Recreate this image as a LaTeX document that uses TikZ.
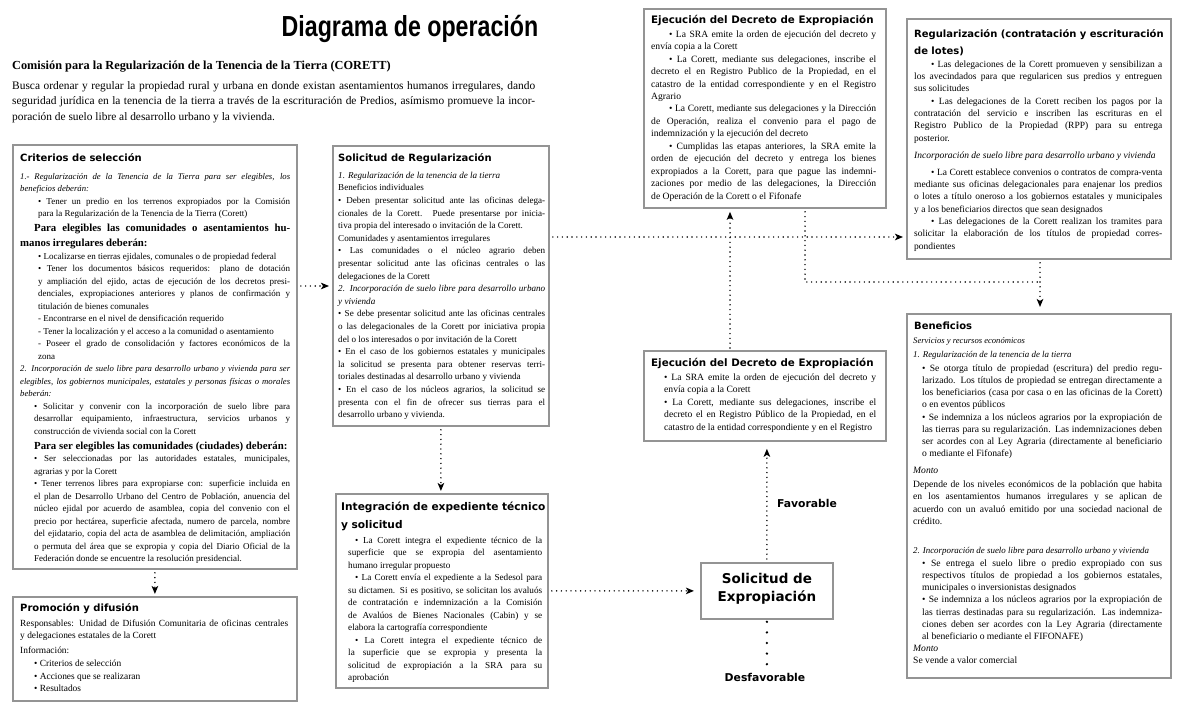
\documentclass[tikz,border=0pt]{standalone}
\usepackage{fontspec}
\usepackage{graphicx}
\setmainfont{Liberation Serif}
\newfontfamily\headfont{DejaVu Sans}
\newfontfamily\titlefont{Liberation Sans}
\usetikzlibrary{arrows.meta}
\newcommand{\myfs}[2]{\fontsize{#1}{#2}\selectfont}
\tolerance=10000
\hbadness=10000
\begin{document}
\begin{tikzpicture}[x=1pt,y=-1pt,
  box/.style={draw=black!42, line width=1.8pt, fill=white, inner sep=0pt, anchor=north west},
  txt/.style={inner sep=0pt, anchor=north west, align=justify},
  hd/.style={inner sep=0pt, anchor=base west, font=\headfont\bfseries\myfs{10}{12}},
  hd2/.style={inner sep=0pt, anchor=north west, align=left, font=\headfont\bfseries\myfs{10}{17}},
  dotln/.style={line width=1.6pt, dash pattern=on 0pt off 4.8pt, line cap=round},
  dotarr/.style={dotln, -{Stealth[length=8pt,width=6.5pt,inset=2pt]}},
  bigdots/.style={line width=2.6pt, dash pattern=on 0pt off 10.6pt, line cap=round},
  lbl/.style={inner sep=0pt, font=\headfont\bfseries\myfs{10.8}{13}}]
\useasboundingbox (0,0) rectangle (1184,706);
\fill[white] (0,0) rectangle (1184,706);

% ---------- boxes ----------
\node[box, minimum width=284pt, minimum height=424pt] (A) at (12,144) {};
\node[box, minimum width=284pt, minimum height=104pt] (B) at (12,596) {};
\node[box, minimum width=216pt, minimum height=280pt] (C) at (332,145) {};
\node[box, minimum width=212pt, minimum height=194pt] (D) at (335,493) {};
\node[box, minimum width=242pt, minimum height=199pt] (E) at (643,8) {};
\node[box, minimum width=242pt, minimum height=90pt] (F) at (643,350) {};
\node[box, minimum width=132pt, minimum height=56pt] (G) at (700,562) {};
\node[inner sep=0pt, align=center, font=\headfont\bfseries\myfs{13.5}{17.7}] (Gt) at ([yshift=2pt]G.center) {Solicitud de\\Expropiación};
\node[box, minimum width=264pt, minimum height=240pt] (H) at (906,18) {};
\node[box, minimum width=264pt, minimum height=364pt] (I) at (906,313) {};

% ---------- labels ----------
\node[lbl] (fav) at (807,503) {Favorable};
\node[lbl] (desf) at (765,677) {Desfavorable};

% ---------- connectors ----------
\coordinate (yAC) at (0,286);
\coordinate (yCH) at (0,237);
\coordinate (xFE) at (730,0);
\coordinate (xEI) at (805,0);
\coordinate (jn) at (1040,282);
\draw[dotarr, shorten <=3pt, shorten >=3pt] (A.east |- yAC) -- (C.west |- yAC);
\draw[dotarr, shorten <=3pt, shorten >=2pt] (A.south) -- (A.south |- B.north);
\draw[dotarr, shorten <=3pt, shorten >=2pt] (C.south) -- (C.south |- D.north);
\draw[dotarr, shorten <=3pt, shorten >=3pt] (C.east |- yCH) -- (H.west |- yCH);
\draw[dotarr, shorten <=2pt, shorten >=3pt] (F.north -| xFE) -- (E.south -| xFE);
\draw[dotln, shorten <=3pt] (E.south -| xEI) |- (jn);
\draw[dotarr, shorten <=3pt, shorten >=6pt] (H.south -| jn) -- (I.north -| jn);
\draw[dotarr, shorten <=3pt, shorten >=7pt] (G.north) -- (G.north |- F.south);
\draw[dotarr, shorten <=3pt, shorten >=6pt] (D.east |- G.west) -- (G.west);
\draw[bigdots, shorten <=2pt, shorten >=6pt] (G.south) -- (G.south |- desf.north);

% ---------- title and intro ----------
\node[anchor=base, inner sep=0pt] (title) at (410,37)
  {\titlefont\bfseries\myfs{29}{32}\scalebox{0.8}[1]{Diagrama de operación}};
\node[anchor=base west, inner sep=0pt, font=\bfseries\myfs{12.3}{14}] (corett) at (12,70)
  {Comisión para la Regularización de la Tenencia de la Tierra (CORETT)};
\node[txt, text width=523pt, font=\myfs{11.4}{15.5}] (intro) at (12,78.15)
  {\strut Busca ordenar y regular la propiedad rural y urbana en donde existan asentamientos humanos irregulares, dando\linebreak seguridad jurídica en la tenencia de la tierra a través de la escrituración de Predios, asímismo promueve la incor-\linebreak poración de suelo libre al desarrollo urbano y la vivienda.\par};

% ---------- A: Criterios ----------
\node[hd] (Ah) at (20,161) {Criterios de selección};
\node[txt, text width=270pt, font=\myfs{9}{12.5}] (At) at (20,170.25) {\strut{\itshape\myfs{8.7}{12.5}1.- Regularización de la Tenencia de la Tierra para ser elegibles, los\linebreak beneficios deberán:\par}
{\leftskip=18pt • Tener un predio en los terrenos expropiados por la Comisión\linebreak para la Regularización de la Tenencia de la Tierra (Corett)\par}
{\myfs{10.8}{15}\bfseries\hspace*{14pt}Para elegibles las comunidades o asentamientos hu-\linebreak manos irregulares deberán:\par}
{\leftskip=18pt • Localizarse en tierras ejidales, comunales o de propiedad federal\par
• Tener los documentos básicos requeridos: plano de dotación\linebreak y ampliación del ejido, actas de ejecución de los decretos presi-\linebreak denciales, expropiaciones anteriores y planos de confirmación y\linebreak titulación de bienes comunales\par
- Encontrarse en el nivel de densificación requerido\par
- Tener la localización y el acceso a la comunidad o asentamiento\par
- Poseer el grado de consolidación y factores económicos de la\linebreak zona\par}
{\itshape\myfs{8.7}{12.5}2. Incorporación de suelo libre para desarrollo urbano y vivienda para ser\linebreak elegibles, los gobiernos municipales, estatales y personas físicas o morales\linebreak beberán:\par}
{\leftskip=14pt • Solicitar y convenir con la incorporación de suelo libre para\linebreak desarrollar equipamiento, infraestructura, servicios urbanos y\linebreak construcción de vivienda social con la Corett\par
{\myfs{10.8}{15}\bfseries Para ser elegibles las comunidades (ciudades) deberán:\par}
• Ser seleccionadas por las autoridades estatales, municipales,\linebreak agrarias y por la Corett\par
• Tener terrenos libres para expropiarse con: superficie incluida en\linebreak el plan de Desarrollo Urbano del Centro de Población, anuencia del\linebreak núcleo ejidal por acuerdo de asamblea, copia del convenio con el\linebreak precio por hectárea, superficie afectada, numero de parcela, nombre\linebreak del ejidatario, copia del acta de asamblea de delimitación, ampliación\linebreak o permuta del área que se expropia y copia del Diario Oficial de la\linebreak Federación donde se encuentre la resolución presidencial.\par}};

% ---------- B: Promocion ----------
\node[hd] (Bh) at (20,611) {Promoción y difusión};
\node[txt, text width=268pt, font=\myfs{9.4}{12.6}] (Bt) at (20,617.2) {\strut Responsables: Unidad de Difusión Comunitaria de oficinas centrales\linebreak y delegaciones estatales de la Corett\par\vspace{2.5pt}
Información:\par
{\leftskip=14pt • Criterios de selección\par • Acciones que se realizaran\par • Resultados\par}};

% ---------- C: Solicitud de Regularizacion ----------
\node[hd] (Ch) at (338,162) {Solicitud de Regularización};
\node[txt, text width=207pt, font=\myfs{9.1}{12.6}] (Ct) at (338,169.2) {\strut{\itshape 1. Regularización de la tenencia de la tierra\par}
Beneficios individuales\par
• Deben presentar solicitud ante las oficinas delega-\linebreak cionales de la Corett. Puede presentarse por inicia-\linebreak tiva propia del interesado o invitación de la Corett.\par
Comunidades y asentamientos irregulares\par
• Las comunidades o el núcleo agrario deben\linebreak presentar solicitud ante las oficinas centrales o las\linebreak delegaciones de la Corett\par
{\itshape 2. Incorporación de suelo libre para desarrollo urbano\linebreak y vivienda\par}
• Se debe presentar solicitud ante las oficinas centrales\linebreak o las delegacionales de la Corett por iniciativa propia\linebreak del o los interesados o por invitación de la Corett\par
• En el caso de los gobiernos estatales y municipales\linebreak la solicitud se presenta para obtener reservas terri-\linebreak toriales destinadas al desarrollo urbano y vivienda\par
• En el caso de los núcleos agrarios, la solicitud se\linebreak presenta con el fin de ofrecer sus tierras para el\linebreak desarrollo urbano y vivienda.\par};

% ---------- D: Integracion ----------
\node[hd2, text width=205pt, font=\headfont\bfseries\myfs{10.6}{18}] (Dh) at (341,497.4) {\strut Integración de expediente técnico\\y solicitud};
\node[txt, text width=194pt, font=\myfs{9.2}{12.5}] (Dt) at (348,534.25) {\strut\hspace*{7pt}• La Corett integra el expediente técnico de la\linebreak superficie que se expropia del asentamiento\linebreak humano irregular propuesto\par
\hspace*{7pt}• La Corett envía el expediente a la Sedesol para\linebreak su dictamen. Si es positivo, se solicitan los avaluós\linebreak de contratación e indemnización a la Comisión\linebreak de Avalúos de Bienes Nacionales (Cabin) y se\linebreak elabora la cartografía correspondiente\par
\hspace*{7pt}• La Corett integra el expediente técnico de\linebreak la superficie que se expropia y presenta la\linebreak solicitud de expropiación a la SRA para su\linebreak aprobación\par};

% ---------- E: Ejecucion (arriba) ----------
\node[hd, font=\headfont\bfseries\myfs{10.3}{12}] (Eh) at (651,24) {Ejecución del Decreto de Expropiación};
\node[txt, text width=225pt, font=\myfs{9.6}{12.45}] (Et) at (651,28.3) {\strut\hspace*{18pt}• La SRA emite la orden de ejecución del decreto y\linebreak envía copia a la Corett\par
\hspace*{18pt}• La Corett, mediante sus delegaciones, inscribe el\linebreak decreto el en Registro Publico de la Propiedad, en el\linebreak catastro de la entidad correspondiente y en el Registro\linebreak Agrario\par
\hspace*{18pt}• La Corett, mediante sus delegaciones y la Dirección\linebreak de Operación, realiza el convenio para el pago de\linebreak indemnización y la ejecución del decreto\par
\hspace*{18pt}• Cumplidas las etapas anteriores, la SRA emite la\linebreak orden de ejecución del decreto y entrega los bienes\linebreak expropiados a la Corett, para que pague las indemni-\linebreak zaciones por medio de las delegaciones, la Dirección\linebreak de Operación de la Corett o el Fifonafe\par};

% ---------- F: Ejecucion (abajo) ----------
\node[hd, font=\headfont\bfseries\myfs{10.3}{12}] (Fh) at (651,366) {Ejecución del Decreto de Expropiación};
\node[txt, text width=212pt, font=\myfs{9.6}{12.5}] (Ft) at (664,371.25) {\strut • La SRA emite la orden de ejecución del decreto y\linebreak envía copia a la Corett\par
• La Corett, mediante sus delegaciones, inscribe el\linebreak decreto el en Registro Público de la Propiedad, en el\linebreak catastro de la entidad correspondiente y en el Registro\par};

% ---------- H: Regularizacion ----------
\node[hd2, text width=262pt] (Hh) at (914,25.1) {\strut Regularización (contratación y escrituración\\de lotes)};
\node[txt, text width=248pt, font=\myfs{9.5}{12.3}] (Ht) at (914,58.4) {\strut\hspace*{17pt}• Las delegaciones de la Corett promueven y sensibilizan a\linebreak los avecindados para que regularicen sus predios y entreguen\linebreak sus solicitudes\par
\hspace*{17pt}• Las delegaciones de la Corett reciben los pagos por la\linebreak contratación del servicio e inscriben las escrituras en el\linebreak Registro Publico de la Propiedad (RPP) para su entrega\linebreak posterior.\par
\vspace{4.9pt}
{\itshape Incorporación de suelo libre para desarrollo urbano y vivienda\par}
\vspace{4.7pt}
\hspace*{17pt}• La Corett establece convenios o contratos de compra-venta\linebreak mediante sus oficinas delegacionales para enajenar los predios\linebreak o lotes a título oneroso a los gobiernos estatales y municipales\linebreak y a los beneficiarios directos que sean designados\par
\hspace*{17pt}• Las delegaciones de la Corett realizan los tramites para\linebreak solicitar la elaboración de los títulos de propiedad corres-\linebreak pondientes\par};

% ---------- I: Beneficios ----------
\node[hd] (Ih) at (914,329) {Beneficios};
\node[txt, text width=249pt, font=\myfs{9.6}{12.2}] (It) at (913,334.5) {\strut{\itshape\myfs{8.6}{12.2}Servicios y recursos económicos\par}
\vspace{1.8pt}
{\itshape\myfs{8.9}{12.2}1. Regularización de la tenencia de la tierra\par}
\vspace{1.8pt}
{\leftskip=9pt • Se otorga título de propiedad (escritura) del predio regu-\linebreak larizado. Los títulos de propiedad se entregan directamente a\linebreak los beneficiarios (casa por casa o en las oficinas de la Corett)\linebreak o en eventos públicos\par
• Se indemniza a los núcleos agrarios por la expropiación de\linebreak las tierras para su regularización. Las indemnizaciones deben\linebreak ser acordes con al Ley Agraria (directamente al beneficiario\linebreak o mediante el Fifonafe)\par}
\vspace{4.8pt}
{\itshape Monto\par}
\vspace{1.8pt}
Depende de los niveles económicos de la población que habita\linebreak en los asentamientos humanos irregulares y se aplican de\linebreak acuerdo con un avaluó emitido por una sociedad nacional de\linebreak crédito.\par
\vspace{16.8pt}
{\itshape\myfs{8.9}{12.2}2. Incorporación de suelo libre para desarrollo urbano y vivienda\par}
\vspace{0.8pt}
{\leftskip=9pt • Se entrega el suelo libre o predio expropiado con sus\linebreak respectivos títulos de propiedad a los gobiernos estatales,\linebreak municipales o inversionistas designados\par
• Se indemniza a los núcleos agrarios por la expropiación de\linebreak las tierras destinadas para su regularización. Las indemniza-\linebreak ciones deben ser acordes con la Ley Agraria (directamente\linebreak al beneficiario o mediante el FIFONAFE)\par}
{\itshape Monto\par}
Se vende a valor comercial\par};
\end{tikzpicture}
\end{document}
